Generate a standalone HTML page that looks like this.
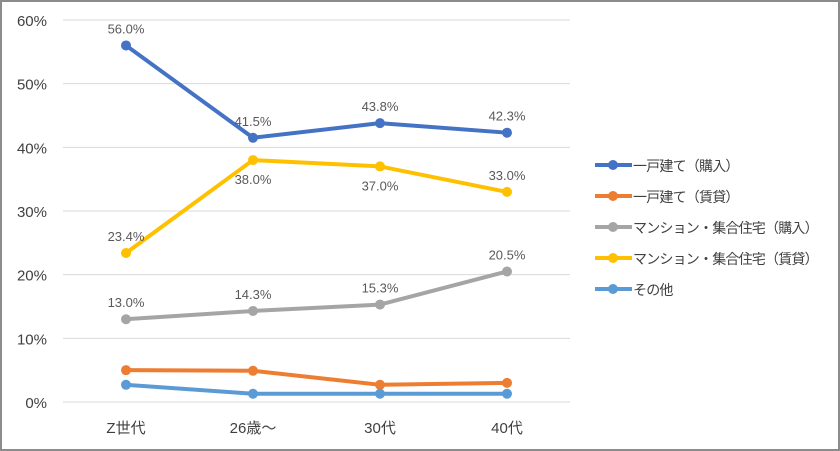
<!DOCTYPE html>
<html><head><meta charset="utf-8"><style>
body{margin:0;background:#fff}
svg{display:block;font-family:"Liberation Sans","Noto Sans CJK JP",sans-serif}
</style></head><body>
<svg id="c" width="840" height="451">
<rect x="1" y="1" width="838" height="449" fill="#fff" stroke="#8c8c8c" stroke-width="2"/>
<g id="grid"></g><g id="series"></g><g id="legend"></g>
</svg>
<script>
const categories=["Z世代","26歳〜","30代","40代"];
const seriesNames=["一戸建て（購入）","一戸建て（賃貸）","マンション・集合住宅（購入）","マンション・集合住宅（賃貸）","その他"];
const colors=["#4472c4","#ed7d31","#a5a5a5","#ffc000","#5b9bd5"];
const s1=[56.0,41.5,43.8,42.3];
const s2=[5.0,4.9,2.7,3.0];
const s3=[13.0,14.3,15.3,20.5];
const s4=[23.4,38.0,37.0,33.0];
const s5=[2.7,1.3,1.3,1.3];
const yTicks=[0,10,20,30,40,50,60];
const labelled=[true,false,true,true,false];
const NS="http://www.w3.org/2000/svg";
const X=i=>126+i*127, Y=v=>402-v*(382/60);
function mk(t,a,p){const e=document.createElementNS(NS,t);for(const k in a)e.setAttribute(k,a[k]);p.appendChild(e);return e;}
const grid=document.getElementById('grid');
yTicks.forEach(t=>{
 const l=mk('line',{x1:63,x2:570,y1:Y(t),y2:Y(t),stroke:'#d9d9d9','stroke-width':1},grid);
 
 
 const tx=mk('text',{x:47,y:Y(t)+6,'text-anchor':'end','font-size':15,fill:'#404040'},grid);tx.textContent=t+'%';
 
 
});
categories.forEach((c,i)=>{
 const tx=mk('text',{x:X(i),y:433,'text-anchor':'middle','font-size':15,fill:'#404040'},grid);tx.textContent=c;
 
 
});
const data=[s1,s2,s3,s4,s5];
const sg=document.getElementById('series');
data.forEach((d,k)=>{
 const g=mk('g',{},sg);
 
 
 mk('polyline',{points:d.map((v,i)=>X(i)+','+Y(v)).join(' '),fill:'none',stroke:colors[k],'stroke-width':4,'stroke-linejoin':'round'},g);
 d.forEach((v,i)=>{
  const p=mk('circle',{cx:X(i),cy:Y(v),r:5,fill:colors[k]},g);
  
  
  if(labelled[k]){
   const below=(k===3&&(i===1||i===2));
   const tx=mk('text',{x:X(i),y:below?Y(v)+24:Y(v)-12,'text-anchor':'middle','font-size':13,fill:'#595959'},g);
   tx.textContent=v.toFixed(1)+'%';
   
   
  }
 });
});
const lg=document.getElementById('legend');
seriesNames.forEach((n,k)=>{
 const y=165+k*31;
 const g=mk('g',{},lg);
 
 
 mk('line',{x1:595,x2:632,y1:y,y2:y,stroke:colors[k],'stroke-width':4},g);
 mk('circle',{cx:613,cy:y,r:5,fill:colors[k]},g);
 const t=mk('text',{x:633,y:y+6,'font-size':14,'letter-spacing':-0.8,fill:'#404040'},g);t.textContent=n;
});
</script>
</body></html>
